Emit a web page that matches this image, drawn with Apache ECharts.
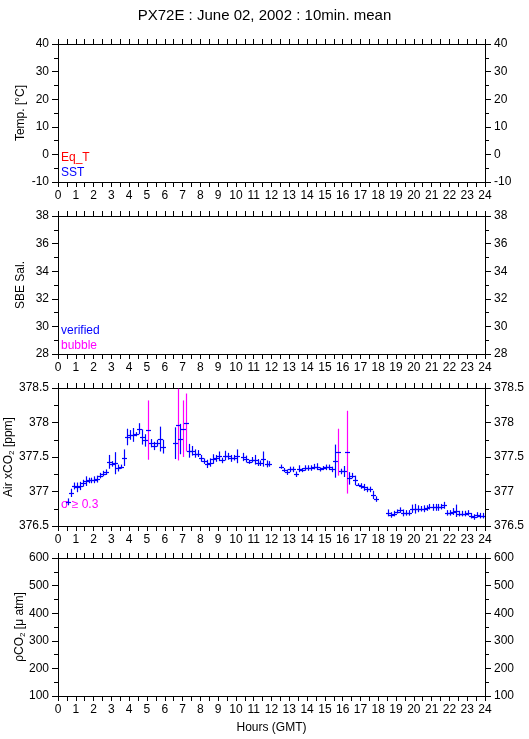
<!DOCTYPE html>
<html>
<head>
<meta charset="utf-8">
<script src="https://cdn.jsdelivr.net/npm/echarts@6/dist/echarts.min.js"></script>
<style>
html,body{margin:0;padding:0;background:#fff;}
#c{width:529px;height:739px;}
</style>
</head>
<body>
<div id="c"></div>
<script>
// ---- data (Air xCO2, 10-min means) ----
const hours = [
 0.55,0.72,0.88,1.05,1.22,1.38,1.55,1.72,1.88,2.05,2.22,2.38,2.55,2.72,2.88,3.05,3.22,3.38,3.55,3.72,3.88,
 4.05,4.22,4.38,4.55,4.72,4.88,5.05,5.22,5.38,5.55,5.72,5.88,
 6.55,6.72,6.88,7.05,7.22,7.38,7.55,7.72,7.88,8.05,8.22,8.38,8.55,8.72,8.88,9.05,9.22,9.38,9.55,9.72,9.88,10.05,
 10.38,10.55,10.72,10.88,11.05,11.22,11.38,11.55,11.72,11.88,
 12.55,12.72,12.88,13.05,13.22,13.38,13.55,13.72,13.88,14.05,14.22,14.38,14.55,14.72,14.88,15.05,15.22,15.38,
 15.55,15.72,15.88,16.05,16.22,16.38,16.55,16.72,16.88,17.05,17.22,17.38,17.55,17.72,17.88,
 18.55,18.72,18.88,19.05,19.22,19.38,19.55,19.72,19.88,20.05,20.22,20.38,20.55,20.72,20.88,21.05,21.22,21.38,
 21.55,21.72,21.88,22.05,22.22,22.38,22.55,22.72,22.88,23.05,23.22,23.38,23.55,23.72,23.88
];
const xco2 = [
 376.85,376.98,377.08,377.06,377.08,377.12,377.15,377.16,377.16,377.17,377.18,377.23,377.26,377.28,377.43,377.40,377.41,377.34,377.36,377.49,377.79,
 377.82,377.82,377.83,377.91,377.79,377.74,377.89,377.70,377.66,377.70,377.76,377.65,
 377.70,377.97,377.76,377.91,378.00,377.59,377.59,377.55,377.55,377.48,377.44,377.40,377.42,377.47,377.48,377.51,377.45,377.52,377.51,377.48,377.49,377.51,
 377.50,377.47,377.43,377.46,377.46,377.42,377.41,377.47,377.40,377.40,
 377.36,377.31,377.28,377.32,377.32,377.25,377.33,377.31,377.34,377.34,377.34,377.36,377.36,377.32,377.34,377.35,377.35,377.32,
 377.44,377.57,377.29,377.29,377.57,377.19,377.23,377.16,377.10,377.08,377.06,377.03,377.03,376.95,376.89,
 376.69,376.66,376.68,376.71,376.73,376.69,376.69,376.69,376.75,376.75,376.75,376.75,376.75,376.76,376.78,376.77,376.77,376.77,
 376.78,376.80,376.69,376.69,376.71,376.72,376.68,376.68,376.68,376.69,376.65,376.63,376.66,376.65,376.65
];
const sigma = [
 0.05,0.06,0.05,0.07,0.06,0.05,0.07,0.04,0.04,0.05,0.05,0.04,0.04,0.04,0.10,0.04,0.16,0.05,0.03,0.12,0.12,
 0.07,0.10,0.03,0.08,0.11,0.09,0.43,0.06,0.06,0.05,0.18,0.10,
 0.23,0.52,0.22,0.41,0.42,0.10,0.07,0.06,0.05,0.05,0.04,0.06,0.06,0.07,0.05,0.07,0.04,0.07,0.05,0.05,0.04,0.10,
 0.06,0.05,0.03,0.04,0.07,0.05,0.04,0.11,0.05,0.04,
 0.03,0.03,0.04,0.04,0.04,0.04,0.05,0.03,0.04,0.04,0.04,0.04,0.05,0.03,0.03,0.04,0.04,0.04,
 0.24,0.34,0.04,0.08,0.60,0.09,0.04,0.07,0.02,0.04,0.05,0.04,0.04,0.06,0.04,
 0.05,0.04,0.04,0.03,0.04,0.05,0.04,0.04,0.06,0.07,0.05,0.04,0.05,0.04,0.04,0.05,0.05,0.05,
 0.04,0.05,0.04,0.04,0.05,0.09,0.04,0.04,0.04,0.04,0.04,0.04,0.04,0.04,0.04
];
const SIGMA_LIMIT = 0.3;
const hourTicks = [0, 24, 1];
const panelRanges = [[-10, 40, 10], [28, 38, 2], [376.5, 378.5, 0.5], [100, 600, 100]];
const panelNames = ['Temp. [°C]', 'SBE Sal.', 'Air xCO{s|2} [ppm]', 'ρCO{s|2} [μ atm]'];
const title = 'PX72E : June 02, 2002 : 10min. mean';
const xTitle = 'Hours (GMT)';

// ---- chart ----
const FONT = '"Liberation Sans", Arial, Helvetica, sans-serif';
const tops = [44, 216, 388, 558];
const nameGaps = [31, 31, 42, 31];
const grids = tops.map(t => ({left: 58, top: t, width: 427, height: 138,
  containLabel: false, outerBoundsMode: 'none'}));
const line = {show: true, onZero: false, lineStyle: {color: '#000', width: 1}};
const xAxes = [], yAxes = [];
grids.forEach((g, i) => {
  const xBase = {type: 'value', gridIndex: i, min: hourTicks[0], max: hourTicks[1], interval: hourTicks[2],
    axisLine: line, splitLine: {show: false},
    axisTick: {show: true, inside: false, length: 5, lineStyle: {color: '#000'}},
    minorTick: {show: true, splitNumber: 2, length: 5, lineStyle: {color: '#000'}}};
  xAxes.push(Object.assign({}, xBase, {position: 'bottom',
    axisLabel: {show: true, color: '#000', fontSize: 12, fontFamily: FONT, margin: 8},
    name: i === 3 ? xTitle : '', nameLocation: 'middle', nameGap: 26, nameMoveOverlap: false,
    nameTextStyle: {color: '#000', fontSize: 12, fontFamily: FONT}}));
  xAxes.push(Object.assign({}, xBase, {position: 'top', axisLabel: {show: false}}));
  const r = panelRanges[i];
  const yBase = {type: 'value', gridIndex: i, min: r[0], max: r[1], interval: r[2],
    axisLine: line, splitLine: {show: false},
    axisTick: {show: true, inside: false, length: 6, lineStyle: {color: '#000'}},
    minorTick: {show: true, splitNumber: 2, length: 4, lineStyle: {color: '#000'}},
    axisLabel: {show: true, color: '#000', fontSize: 12, fontFamily: FONT, margin: 9}};
  yAxes.push(Object.assign({}, yBase, {position: 'left',
    name: panelNames[i], nameLocation: 'middle', nameGap: nameGaps[i], nameRotate: 90, nameMoveOverlap: false,
    nameTextStyle: {color: '#000', fontSize: 12, fontFamily: FONT,
      rich: {s: {fontSize: 8, fontFamily: FONT, color: '#000', verticalAlign: 'bottom', padding: [6, 0, 0, 0]}}}}));
  yAxes.push(Object.assign({}, yBase, {position: 'right'}));
});

const data = hours.map((h, i) => [h, xco2[i], sigma[i]]);

const series = [
  {type: 'custom', xAxisIndex: 4, yAxisIndex: 4, clip: true, data: data,
   emphasis: {disabled: true},
   renderItem: function (params, api) {
     const x = api.value(0), v = api.value(1), s = api.value(2);
     const c = api.coord([x, v]);
     const t = api.coord([x, v + s]);
     const b = api.coord([x, v - s]);
     const cx = Math.round(c[0]) + 0.5, cy = Math.round(c[1]) + 0.5;
     const col = s >= SIGMA_LIMIT ? '#ff00ff' : '#0000ff';
     return {type: 'group', children: [
       {type: 'line', shape: {x1: cx, y1: t[1], x2: cx, y2: b[1]}, style: {stroke: col, lineWidth: 1.2}},
       {type: 'line', shape: {x1: cx - 2.5, y1: cy, x2: cx + 2.5, y2: cy}, style: {stroke: '#0000ff', lineWidth: 1.2}}
     ]};
   }}
];

const txt = (x, y, text, color, size) => ({type: 'text', left: x, top: y,
  style: {text: text, fill: color, font: (size || 12) + 'px ' + FONT}});

const option = {
  backgroundColor: '#fff',
  animation: false,
  title: {text: title, left: 'center', top: 3,
    textStyle: {color: '#000', fontSize: 15, fontWeight: 'normal', fontFamily: FONT}},
  grid: grids,
  xAxis: xAxes,
  yAxis: yAxes,
  series: series,
  graphic: [
    txt(61, 152, 'Eq_T', '#ff0000'),
    txt(61, 167, 'SST', '#0000ff'),
    txt(61, 325, 'verified', '#0000ff'),
    txt(61, 340, 'bubble', '#ff00ff'),
    txt(61, 499, 'σ ≥ 0.3', '#ff00ff')
  ]
};
const chart = echarts.init(document.getElementById('c'));
chart.setOption(option);
</script>
</body>
</html>
